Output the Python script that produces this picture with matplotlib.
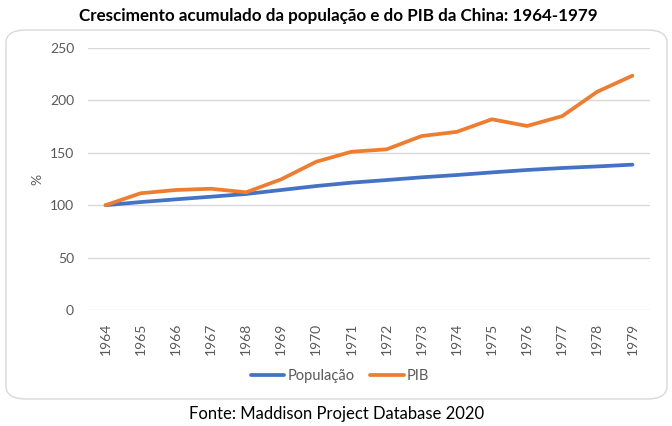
import matplotlib
matplotlib.use("Agg")
import matplotlib.pyplot as plt
from matplotlib.patches import FancyBboxPatch

years = list(range(1964, 1980))
populacao = [100, 103, 105.6, 108.1, 110.7, 114.5, 118.3, 121.5, 124, 126.6, 128.8, 131.3, 133.6, 135.5, 137, 138.7]
pib = [100, 111.4, 114.5, 115.7, 112.3, 124.7, 141.5, 151, 153.3, 166, 170, 182, 175.6, 185, 208.3, 223.6]
yticks = [0, 50, 100, 150, 200, 250]

plt.rcParams['font.family'] = ['Lato', 'DejaVu Sans']

fig = plt.figure(figsize=(6.72, 4.26), dpi=100)
W, H = 672, 426

# rounded frame
frame = FancyBboxPatch((6/W, 27/H), 661/W, (399-30)/H,
                       boxstyle="round,pad=0,rounding_size=0.03",
                       transform=fig.transFigure, facecolor='white',
                       edgecolor='#D9D9D9', linewidth=1.0, zorder=-10)
fig.patches.append(frame)

ax = fig.add_axes([88/W, 1-310/H, (650-88)/W, (310-48)/H])
ax.set_facecolor('none')
ax.set_zorder(5)
l1, = ax.plot(years, populacao, color='#4472C4', linewidth=2.7, label='População', solid_capstyle='round')
l2, = ax.plot(years, pib, color='#ED7D31', linewidth=2.7, label='PIB', solid_capstyle='round')
ax.set_xlim(1963.5, 1979.5)
ax.set_ylim(0, 250)
ax.set_yticks(yticks)
ax.set_xticks(years)
ax.set_xticklabels([str(y) for y in years], rotation=90)
ax.grid(axis='y', color='#D9D9D9', linewidth=1.0)
ax.set_axisbelow(True)
for s in ax.spines.values():
    s.set_visible(False)
ax.tick_params(axis='both', length=0, labelsize=10, colors='#595959')
ax.tick_params(axis='y', pad=10)
ax.tick_params(axis='x', pad=9)
ax.set_ylabel('%', fontsize=10, color='#595959')
ax.yaxis.set_label_coords((43-88)/562, 0.5)

fig.legend(handles=[l1, l2], loc='center', bbox_to_anchor=(340/W, 1-376/H),
           ncol=2, frameon=False, fontsize=10.5, handlelength=2.3,
           handletextpad=0.2, columnspacing=1.1, labelcolor='#595959')

fig.text(338/W, 1-16/H, 'Crescimento acumulado da população e do PIB da China: 1964-1979',
         ha='center', va='center', fontsize=12.25, fontweight='bold', color='black')
fig.text(337/W, 1-414/H, 'Fonte: Maddison Project Database 2020',
         ha='center', va='center', fontsize=12, color='black')

fig.savefig('out.png', dpi=100)
